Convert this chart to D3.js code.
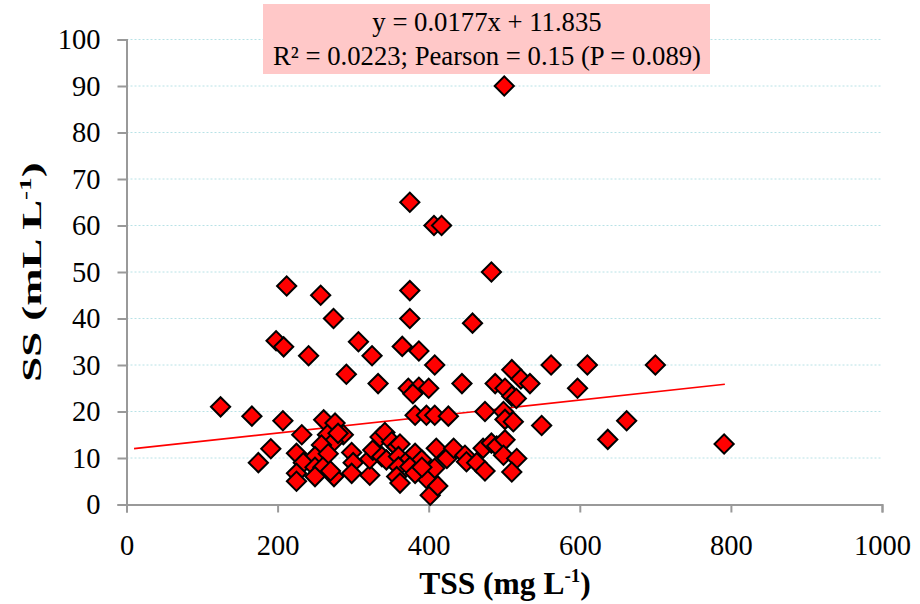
<!DOCTYPE html>
<html>
<head>
<meta charset="utf-8">
<script src="https://cdn.jsdelivr.net/npm/d3@7"></script>
<style>
  body { margin: 0; background: #fff; }
  svg text { font-family: "Liberation Serif", Tinos, "Times New Roman", "DejaVu Serif", serif; }
</style>
</head>
<body>
<svg id="chart" width="920" height="604"></svg>
<script>
// TSS (mg L-1) values
const tss = [
  500, 375, 407, 417, 483, 212, 257, 375, 274, 375,
  458, 198, 208, 241, 307, 325, 365, 387, 408, 291,
  333, 444, 488, 510, 522, 534, 562, 610, 700, 597,
  373, 387, 400, 379, 501, 510, 516, 124.5, 166, 207,
  232, 191, 174.5, 261, 276, 266, 287, 274, 258, 225,
  249.5, 267, 234, 249.5, 260, 225, 225, 249.5, 274.6, 298,
  300, 298, 280, 270, 322, 322, 326, 335.6, 342, 351,
  357.6, 338, 344, 362, 360, 360, 357.6, 362, 375, 382,
  390.7, 375, 397, 402, 412, 408, 410, 424, 382, 397,
  408, 426, 474.5, 499, 501, 512, 549.5, 662, 637, 791,
  433, 448, 450, 463.5, 474.5, 472, 483, 490, 501, 499,
  516.5, 510, 382, 391
]
// SS (mL L-1) values
const ss = [
  90, 65, 60, 60, 50, 47, 45, 46, 40, 40,
  39, 35.2, 33.9, 32, 35, 32, 34, 33, 30, 28,
  26, 26, 26, 29, 27, 26, 30, 30, 30, 25,
  25, 25.2, 25, 23.8, 25, 23.3, 22.8, 21, 19, 18,
  15, 12, 9, 18.2, 17.5, 15, 15, 13.5, 12.8, 11,
  10.3, 10.9, 9, 8, 8, 6.7, 5, 6, 6, 11.2,
  9, 6.7, 15.3, 7.2, 6.3, 9.8, 11.7, 14.5, 15.5, 13.5,
  12.4, 10.3, 9.6, 13, 10.3, 8.1, 6, 4.6, 9.9, 11,
  9.6, 8.1, 5.6, 2, 4, 7.8, 12.1, 9.9, 19.2, 19.2,
  19.2, 19, 20, 20, 18.3, 17.8, 17, 18, 14, 13,
  12.1, 10.6, 9.2, 9, 7.2, 12.1, 13.2, 12.6, 13.9, 10.6,
  9.9, 7, 6.7, 8
]
const points = tss.map((x, i) => ({x: x, y: ss[i]}))

const xTicks = [0, 200, 400, 600, 800, 1000]
const yTicks = [0, 10, 20, 30, 40, 50, 60, 70, 80, 90, 100]

// trendline from Excel: y = 0.0177x + 11.835
const slope = 0.0177, intercept = 11.835
const trendRange = [10, 792]
const eqLines = ['y = 0.0177x + 11.835', 'R² = 0.0223; Pearson = 0.15 (P = 0.089)']

const FONT = '"Liberation Serif", Tinos, "Times New Roman", "DejaVu Serif", serif'
const $svg = d3.select('#chart')
const AXIS = '#999999'

const xScale = d3.scaleLinear().domain([0, 1000]).range([126.5, 882])
const yScale = d3.scaleLinear().domain([0, 100]).range([504.5, 39.5])

// gridlines
$svg.append('g')
  .selectAll('line')
  .data(yTicks.slice(1))
  .enter()
  .append('line')
    .attr('x1', xScale(0))
    .attr('x2', xScale(1000))
    .attr('y1', d => yScale(d))
    .attr('y2', d => yScale(d))
    .attr('stroke', '#b8e2e6')
    .attr('stroke-width', 1)
    .attr('stroke-dasharray', '2,2')

// annotation box
const $note = $svg.append('g')
$note.append('rect')
  .attr('x', 263).attr('y', 4)
  .attr('width', 447).attr('height', 70)
  .attr('fill', '#ffc8c8')
$note.selectAll('text')
  .data(eqLines)
  .enter()
  .append('text')
    .attr('x', 487)
    .attr('y', (d, i) => 31 + i * 34)
    .attr('text-anchor', 'middle')
    .attr('font-family', FONT)
    .attr('font-size', 26.7)
    .attr('fill', '#000')
    .text(d => d)

// axes
const xAxis = d3.axisBottom(xScale).tickValues(xTicks).tickFormat(d3.format('d')).tickSize(8).tickPadding(22)
const yAxis = d3.axisLeft(yScale).tickValues(yTicks).tickFormat(d3.format('d')).tickSize(9).tickPadding(17)

const $gx = $svg.append('g').attr('transform', `translate(0, ${yScale(0)})`).call(xAxis)
const $gy = $svg.append('g').attr('transform', `translate(${xScale(0)}, 0)`).call(yAxis)
;[$gx, $gy].forEach($g => {
  $g.attr('font-family', FONT)
  $g.select('.domain').attr('stroke', AXIS).attr('stroke-width', 2)
  $g.selectAll('.tick line').attr('stroke', AXIS).attr('stroke-width', 2)
  $g.selectAll('.tick text')
    .attr('font-size', 28.5)
    .attr('fill', '#000')
})

// trendline
$svg.append('line')
  .attr('x1', xScale(trendRange[0]))
  .attr('y1', yScale(slope * trendRange[0] + intercept))
  .attr('x2', xScale(trendRange[1]))
  .attr('y2', yScale(slope * trendRange[1] + intercept))
  .attr('stroke', '#ff0000')
  .attr('stroke-width', 1.6)

// points
const diamond = d3.symbol().type(d3.symbolSquare).size(185)
$svg.append('g')
  .selectAll('path')
  .data(points)
  .enter()
  .append('path')
    .attr('d', diamond)
    .attr('transform', d => `translate(${xScale(d.x)}, ${yScale(d.y)}) rotate(45)`)
    .attr('fill', '#ff0000')
    .attr('stroke', '#000')
    .attr('stroke-width', 2)

// axis titles
const xt = $svg.append('text')
  .attr('x', 505).attr('y', 594)
  .attr('text-anchor', 'middle')
  .attr('font-family', FONT)
  .attr('font-size', 31.5).attr('font-weight', 'bold')
xt.append('tspan').text('TSS (mg L')
xt.append('tspan').attr('font-size', 19).attr('dy', -12).text('-1')
xt.append('tspan').attr('dy', 12).text(')')

const yt = $svg.append('text')
  .attr('transform', 'translate(41, 272) rotate(-90) scale(1.6, 1)')
  .attr('text-anchor', 'middle')
  .attr('font-family', FONT)
  .attr('font-size', 28).attr('font-weight', 'bold')
yt.append('tspan').text('SS (mL L')
yt.append('tspan').attr('font-size', 17).attr('dy', -10).text('-1')
yt.append('tspan').attr('dy', 10).text(')')
</script>
</body>
</html>
